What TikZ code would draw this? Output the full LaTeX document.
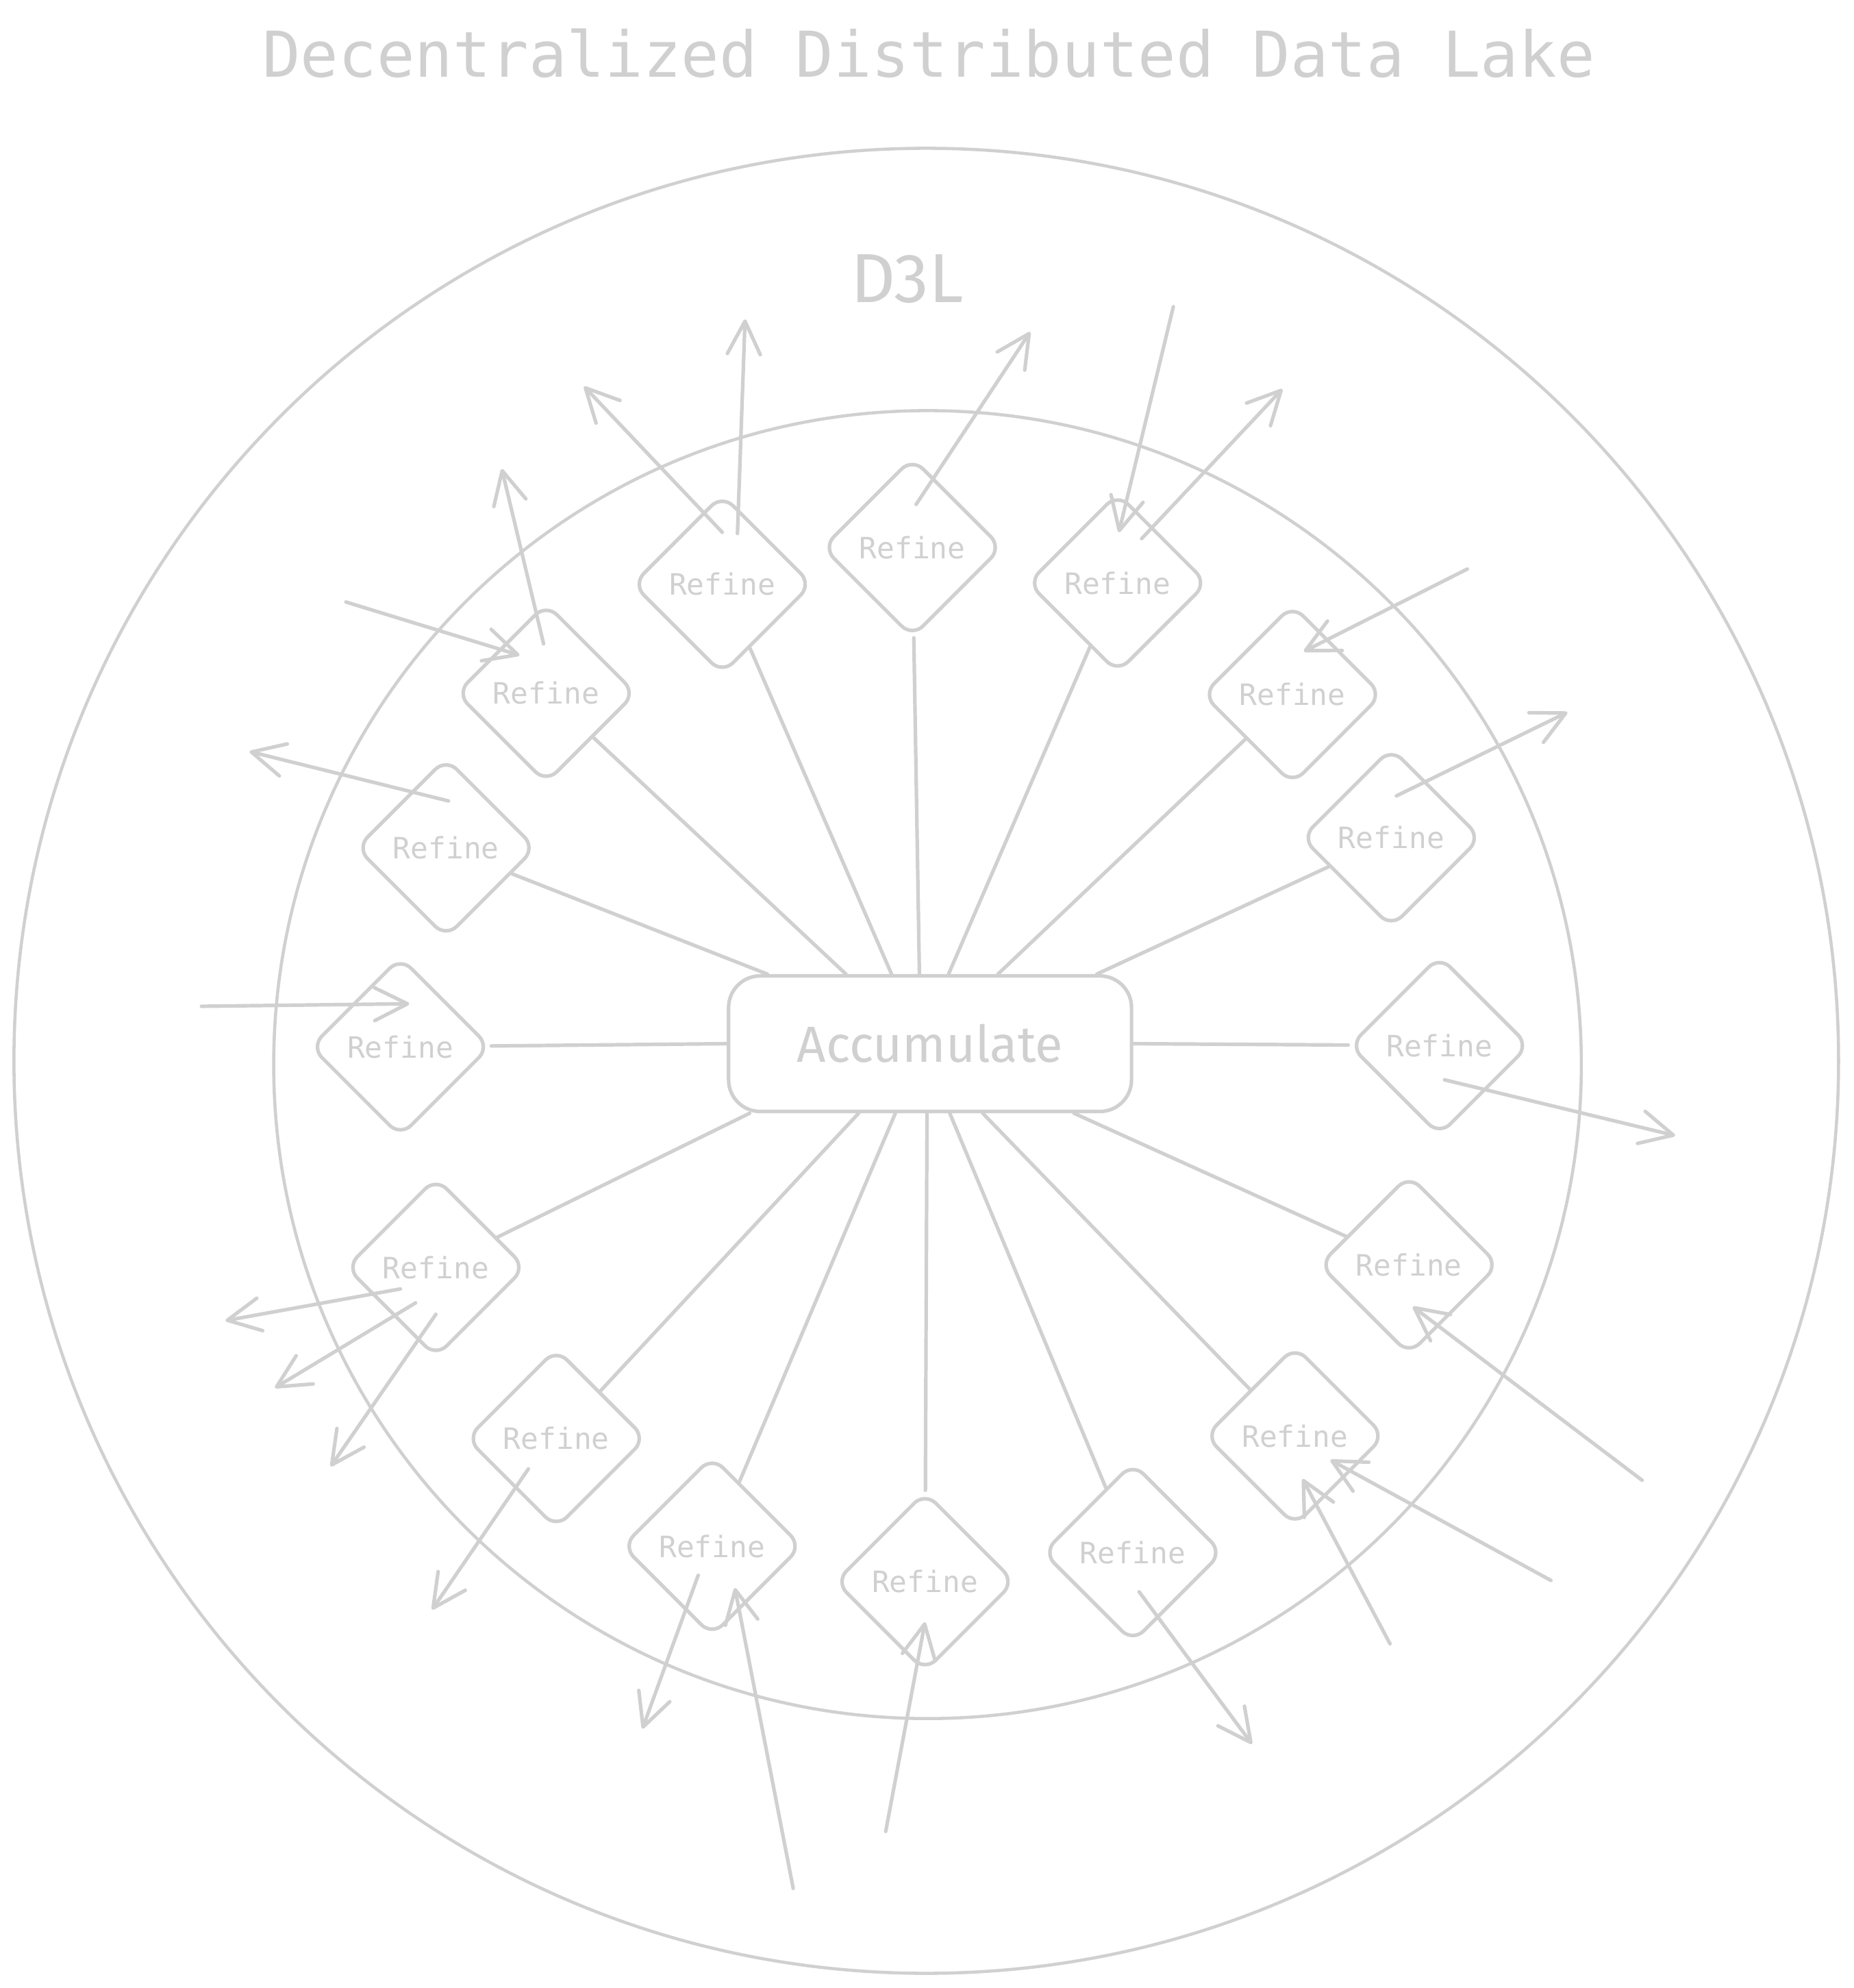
\documentclass[tikz,border=0pt]{standalone}
\usepackage{fontspec}
\setmainfont{Fira Sans}
\newfontfamily\handmono{DejaVu Sans Mono}
\usetikzlibrary{shapes.geometric,arrows.meta,positioning}
\definecolor{sketch}{HTML}{D0D0D0}

\tikzset{
  link/.style={draw=sketch, line width=0.8pt, line cap=round},
  flow/.style={link, -{Straight Barb[length=2.6mm,width=2.6mm,round]}},
  refine/.style={shape=diamond, draw=sketch, text=sketch, line width=0.8pt,
    rounded corners=0.12cm, minimum width=1.42cm, minimum height=1.42cm,
    inner sep=0pt, font=\handmono\fontsize{6.6}{7}\selectfont},
  accum/.style={draw=sketch, text=sketch, line width=0.8pt, rounded corners=0.25cm,
    minimum width=3.18cm, minimum height=1.07cm, font=\fontsize{11.4}{13}\selectfont},
  ring/.style={shape=circle, draw=sketch, line width=0.7pt, inner sep=0pt}
}

\begin{document}
\begin{tikzpicture}
\useasboundingbox (0,0) rectangle (14.63,-15.686);

% title and rings
\node [text=sketch, font=\handmono\fontsize{14.2}{16}\selectfont] (title) at (7.33,-0.42) {Decentralized Distributed Data Lake};
\node [ring, minimum size=14.40cm] (lake) at (7.31,-8.37) {};
\node [ring, minimum size=10.32cm] (core) at (7.32,-8.40) {};
\node [text=sketch, font=\fontsize{15.6}{18}\selectfont] (dl) at (7.16,-2.20) {D3L};

% centre
\node [accum] (acc) at (7.34,-8.235) {Accumulate};

% refine stations
\node [refine] (r1) at (5.70,-4.61) {Refine};
\node [refine] (r2) at (7.20,-4.32) {Refine};
\node [refine] (r3) at (8.82,-4.60) {Refine};
\node [refine] (r4) at (10.20,-5.48) {Refine};
\node [refine] (r5) at (10.98,-6.61) {Refine};
\node [refine] (r6) at (11.36,-8.25) {Refine};
\node [refine] (r7) at (11.12,-9.98) {Refine};
\node [refine] (r8) at (10.22,-11.33) {Refine};
\node [refine] (r9) at (8.94,-12.25) {Refine};
\node [refine] (r10) at (7.30,-12.48) {Refine};
\node [refine] (r11) at (5.62,-12.20) {Refine};
\node [refine] (r12) at (4.39,-11.35) {Refine};
\node [refine] (r13) at (3.44,-10.00) {Refine};
\node [refine] (r14) at (3.16,-8.26) {Refine};
\node [refine] (r15) at (3.52,-6.69) {Refine};
\node [refine] (r16) at (4.31,-5.47) {Refine};

% spokes
\draw [link] ([xshift=1.30cm]acc.north west) -- (r1);
\draw [link] ([xshift=1.52cm]acc.north west) -- (r2);
\draw [link] ([xshift=1.75cm]acc.north west) -- (r3);
\draw [link] ([xshift=2.14cm]acc.north west) -- (r4);
\draw [link] ([xshift=2.92cm]acc.north west) -- (r5);
\draw [link] (acc.east) -- (r6);
\draw [link] ([xshift=2.74cm]acc.south west) -- (r7);
\draw [link] ([xshift=2.02cm]acc.south west) -- (r8);
\draw [link] ([xshift=1.76cm]acc.south west) -- (r9);
\draw [link] ([xshift=1.58cm]acc.south west) -- (r10);
\draw [link] ([xshift=1.33cm]acc.south west) -- (r11);
\draw [link] ([xshift=1.04cm]acc.south west) -- (r12);
\draw [link] ([xshift=0.18cm]acc.south west) -- (r13);
\draw [link] (acc.west) -- (r14);
\draw [link] ([xshift=0.32cm]acc.north west) -- (r15);
\draw [link] ([xshift=0.94cm]acc.north west) -- (r16);

% loose ends
\coordinate (out1) at (5.88,-2.52);
\coordinate (out2) at (4.61,-3.05);
\coordinate (out3) at (8.13,-2.62);
\coordinate (out4) at (10.12,-3.07);
\coordinate (out5) at (12.37,-5.62);
\coordinate (out6) at (13.22,-8.96);
\coordinate (out7) at (9.88,-13.76);
\coordinate (out8) at (5.07,-13.64);
\coordinate (out9) at (3.41,-12.70);
\coordinate (out10) at (2.61,-11.57);
\coordinate (out11) at (2.17,-10.95);
\coordinate (out12) at (1.78,-10.42);
\coordinate (out13) at (1.97,-5.93);
\coordinate (out14) at (3.96,-3.70);
\coordinate (in1) at (9.26,-2.42);
\coordinate (in2) at (11.58,-4.49);
\coordinate (in3) at (12.96,-11.68);
\coordinate (in4) at (12.24,-12.47);
\coordinate (in5) at (10.97,-12.97);
\coordinate (in6) at (6.99,-14.45);
\coordinate (in7) at (6.26,-14.90);
\coordinate (in8) at (1.59,-7.94);
\coordinate (in9) at (2.73,-4.75);

% outgoing arrows
\draw [flow] ([shift={(0.12,0.40)}]r1.center) -- (out1);
\draw [flow] ([shift={(0,0.41)}]r1.center) -- (out2);
\draw [flow] ([shift={(0.03,0.34)}]r2.center) -- (out3);
\draw [flow] ([shift={(0.19,0.35)}]r3.center) -- (out4);
\draw [flow] ([shift={(0.04,0.33)}]r5.center) -- (out5);
\draw [flow] ([shift={(0.04,-0.27)}]r6.center) -- (out6);
\draw [flow] ([shift={(0.05,-0.31)}]r9.center) -- (out7);
\draw [flow] ([shift={(-0.11,-0.23)}]r11.center) -- (out8);
\draw [flow] ([shift={(-0.22,-0.24)}]r12.center) -- (out9);
\draw [flow] ([shift={(0,-0.37)}]r13.center) -- (out10);
\draw [flow] ([shift={(-0.16,-0.28)}]r13.center) -- (out11);
\draw [flow] ([shift={(-0.28,-0.17)}]r13.center) -- (out12);
\draw [flow] ([shift={(0.02,0.37)}]r15.center) -- (out13);
\draw [flow] ([shift={(-0.02,0.39)}]r16.center) -- (out14);

% incoming arrows
\draw [flow] (in1) -- ([shift={(0.01,0.40)}]r3.center);
\draw [flow] (in2) -- ([shift={(0.09,0.34)}]r4.center);
\draw [flow] (in3) -- ([shift={(0.03,-0.33)}]r7.center);
\draw [flow] (in4) -- ([shift={(0.28,-0.19)}]r8.center);
\draw [flow] (in5) -- ([shift={(0.06,-0.34)}]r8.center);
\draw [flow] (in6) -- ([shift={(0,-0.32)}]r10.center);
\draw [flow] (in7) -- ([shift={(0.18,-0.33)}]r11.center);
\draw [flow] (in8) -- ([shift={(0.07,0.34)}]r14.center);
\draw [flow] (in9) -- ([shift={(-0.21,0.30)}]r16.center);
\end{tikzpicture}
\end{document}
